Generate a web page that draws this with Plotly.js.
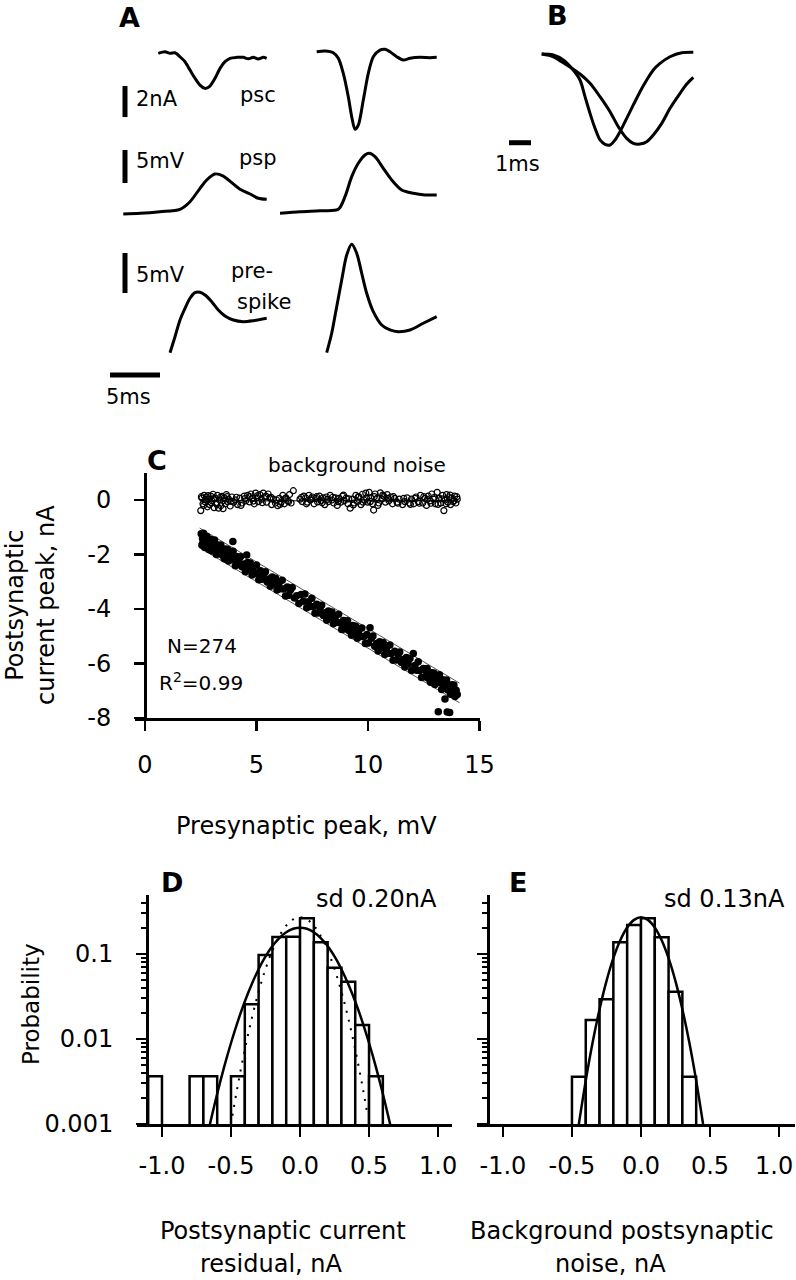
<!DOCTYPE html>
<html><head><meta charset="utf-8">
<script src="https://cdn.plot.ly/plotly-3.0.1.min.js"></script>
<style>html,body{margin:0;padding:0;background:#fff}#chart{width:796px;height:1280px}</style>
</head><body><div id="chart"></div>
<script>
// ---------------- Panel A: example traces (time in ms) ----------------
const psc_left_t  = [5.83,6.5,7.0,7.5,8.0,8.5,9.0,9.5,10.0,10.5,11.0,11.5,12.0,12.5,13.0,13.67,14.33,14.83,15.33,15.83,16.33,16.67];
const psc_left_nA = [0.11,0.21,0.11,0.15,-0.11,-0.43,-0.97,-1.5,-1.94,-2.15,-2.0,-1.5,-0.86,-0.43,-0.21,-0.15,-0.15,-0.24,-0.15,-0.26,-0.15,-0.21];
const psc_right_t  = [3.67,4.5,5.33,5.83,6.33,6.83,7.17,7.5,7.83,8.33,8.83,9.33,10.0,10.5,11.0,11.67,12.33,13.0,14.0,15.0,15.67];
const psc_right_nA = [0.21,0.26,0.15,-0.21,-1.18,-2.69,-3.98,-4.79,-4.52,-2.90,-1.18,-0.11,0.32,0.37,0.21,-0.11,-0.32,-0.21,-0.15,-0.17,-0.15];
const psp_left_t  = [2.33,4.0,6.0,8.0,9.0,10.0,10.67,11.5,12.33,13.17,14.0,15.0,15.83,16.67];
const psp_left_mV = [-0.30,-0.20,0.05,0.41,1.56,3.59,4.85,5.76,5.45,4.44,3.44,2.73,2.08,1.92];
const psp_right_t  = [0,2,4,5.83,6.5,7.17,7.83,8.5,8.93,9.5,10.33,11.17,12.17,13.33,14.5,15.67];
const psp_right_mV = [-0.2,0.05,0.2,0.41,2.32,5.35,7.38,8.64,8.89,8.38,6.62,4.85,3.33,2.83,2.58,2.58];
const pre_left_t  = [7,7.5,8,8.5,9,9.5,10,10.5,11.17,11.83,12.5,13.33,14.33,15.33,16.67];
const pre_left_mV = [0,2.0,4.09,5.55,6.8,7.5,7.55,7.21,6.38,5.34,4.59,4.09,3.88,4.0,4.3];
const pre_right_t  = [4.67,5.17,5.67,6.17,6.67,7.17,7.67,8.17,8.67,9.33,10.17,11.0,11.83,13.0,14.33,15.67];
const pre_right_mV = [0,2.43,5.75,9.09,12.21,13.55,12.43,9.93,7.43,5.13,3.46,2.84,2.63,2.84,3.68,4.5];

// ---------------- Panel B: normalised traces ----------------
const b_fast_t = [1.895,2.423,2.877,3.259,3.636,3.864,4.091,4.318,4.545,4.773,5.0,5.227,5.455,5.759,6.059,6.364,6.668,6.968,7.273,7.727,8.259,8.786];
const b_fast   = [0,-0.01,-0.066,-0.157,-0.286,-0.469,-0.652,-0.816,-0.945,-0.992,-1.0,-0.945,-0.854,-0.707,-0.56,-0.414,-0.286,-0.176,-0.103,-0.03,0.014,0.019];
const b_slow_t = [1.895,2.423,3.032,3.636,4.091,4.545,5.0,5.377,5.759,6.059,6.364,6.668,6.968,7.35,7.727,8.182,8.486,8.786];
const b_slow   = [0,-0.03,-0.121,-0.22,-0.322,-0.469,-0.634,-0.799,-0.927,-0.982,-0.989,-0.964,-0.89,-0.762,-0.597,-0.432,-0.33,-0.256];

// ---------------- Panel C: postsynaptic peak vs presynaptic peak ----------------
const c_evoked = [
[2.52,-1.24],[2.55,-1.65],[2.58,-1.40],[2.60,-1.55],[2.62,-1.22],[2.65,-1.52],[2.68,-1.74],[2.70,-1.38],[2.73,-1.68],[2.75,-1.45],
[2.78,-1.34],[2.80,-1.69],[2.83,-1.57],[2.86,-1.82],[2.90,-1.46],[2.93,-1.68],[2.96,-1.45],[3.00,-1.87],[3.04,-1.63],[3.08,-1.79],
[3.12,-1.47],[3.16,-1.77],[3.20,-2.00],[3.25,-1.65],[3.30,-1.96],[3.35,-1.74],[3.40,-1.65],[3.45,-2.01],[3.50,-1.90],[3.55,-2.16],
[3.60,-1.80],[3.65,-2.03],[3.70,-1.81],[3.75,-2.24],[3.80,-2.00],[3.85,-2.17],[3.94,-1.52],[3.95,-1.88],[4.00,-2.18],[4.05,-2.41],
[4.10,-2.07],[4.15,-2.37],[4.20,-2.16],[4.28,-2.08],[4.35,-2.45],[4.42,-2.35],[4.50,-2.63],[4.56,-2.02],[4.60,-2.29],[4.65,-2.52],
[4.72,-2.31],[4.80,-2.75],[4.85,-2.52],[4.92,-2.69],[5.00,-2.39],[5.05,-2.70],[5.10,-2.93],[5.18,-2.60],[5.25,-2.91],[5.32,-2.71],
[5.40,-2.63],[5.48,-3.01],[5.55,-2.90],[5.62,-3.17],[5.70,-2.83],[5.78,-3.07],[5.85,-2.87],[5.92,-3.30],[6.00,-3.08],[6.08,-3.26],
[6.15,-2.95],[6.22,-3.27],[6.30,-3.52],[6.38,-3.19],[6.45,-3.50],[6.52,-3.30],[6.60,-3.21],[6.70,-3.60],[6.80,-3.51],[6.90,-3.80],
[7.00,-3.47],[7.10,-3.72],[7.17,-3.45],[7.25,-3.95],[7.32,-3.73],[7.40,-3.91],[7.48,-3.61],[7.55,-3.92],[7.62,-4.16],[7.70,-3.83],
[7.78,-4.15],[7.85,-3.95],[7.92,-3.86],[8.00,-4.24],[8.08,-4.14],[8.15,-4.41],[8.22,-4.07],[8.30,-4.31],[8.38,-4.11],[8.45,-4.54],
[8.52,-4.32],[8.60,-4.49],[8.68,-4.19],[8.75,-4.51],[8.82,-4.75],[8.90,-4.42],[8.96,-4.73],[9.02,-4.52],[9.08,-4.43],[9.15,-4.80],
[9.20,-4.69],[9.26,-4.96],[9.32,-4.61],[9.38,-4.84],[9.45,-4.63],[9.52,-5.07],[9.58,-4.83],[9.65,-5.01],[9.72,-4.70],[9.80,-5.02],
[9.88,-5.27],[9.95,-4.94],[10.02,-5.25],[10.09,-4.69],[10.15,-5.07],[10.22,-4.99],[10.30,-5.37],[10.38,-5.27],[10.45,-5.54],[10.52,-5.20],
[10.60,-5.43],[10.68,-5.23],[10.75,-5.67],[10.82,-5.44],[10.90,-5.62],[10.98,-5.32],[11.05,-5.63],[11.12,-5.88],[11.20,-5.55],[11.28,-5.87],
[11.35,-5.66],[11.42,-5.58],[11.50,-5.96],[11.58,-5.85],[11.65,-6.13],[11.72,-5.78],[11.80,-6.02],[11.88,-5.82],[11.95,-6.26],[12.03,-5.63],
[12.10,-6.07],[12.18,-6.25],[12.25,-5.94],[12.32,-6.26],[12.40,-6.51],[12.48,-6.18],[12.55,-6.49],[12.60,-6.27],[12.65,-6.18],[12.70,-6.54],
[12.75,-6.43],[12.80,-6.69],[12.85,-6.34],[12.90,-6.56],[12.95,-6.35],[13.00,-6.77],[13.05,-6.53],[13.10,-6.70],[13.15,-7.77],[13.20,-6.41],
[13.25,-6.71],[13.30,-6.95],[13.35,-6.60],[13.40,-6.91],[13.45,-7.30],[13.48,-6.71],[13.52,-6.61],[13.55,-7.78],[13.58,-6.97],[13.62,-6.85],
[13.66,-7.80],[13.70,-7.13],[13.75,-6.78],[13.80,-7.00],[13.85,-6.79],[13.90,-7.21],[13.95,-6.98],[14.00,-7.14]
];
const c_noise = [
[2.50,-0.39],[2.55,0.07],[2.60,-0.14],[2.65,0.17],[2.70,-0.07],[2.75,0.11],[2.80,-0.25],[2.85,0.03],[2.90,-0.17],[2.95,0.14],
[3.00,-0.03],[3.05,0.21],[3.10,-0.28],[3.15,0.06],[3.20,-0.11],[3.25,0.17],[3.30,-0.30],[3.35,0.00],[3.40,-0.21],[3.45,0.13],
[3.50,-0.32],[3.55,0.08],[3.60,-0.14],[3.65,0.20],[3.70,-0.06],[3.75,0.03],[3.82,-0.22],[3.90,0.11],[3.98,-0.08],[4.05,0.00],
[4.15,-0.17],[4.25,0.07],[4.35,-0.11],[4.45,0.14],[4.52,-0.03],[4.60,0.17],[4.68,-0.07],[4.75,0.22],[4.82,0.06],[4.90,-0.14],
[4.96,0.25],[5.02,0.08],[5.08,-0.06],[5.15,0.20],[5.22,0.03],[5.30,0.25],[5.38,0.11],[5.45,-0.08],[5.52,0.22],[5.60,0.07],
[5.68,-0.17],[5.75,0.03],[5.85,-0.11],[5.95,-0.21],[6.02,0.06],[6.10,-0.08],[6.18,0.17],[6.25,-0.14],[6.32,0.08],[6.40,-0.03],
[6.48,0.20],[6.55,-0.11],[6.65,0.34],[6.95,0.03],[7.05,-0.06],[7.12,0.14],[7.20,0.08],[7.28,-0.08],[7.35,0.17],[7.42,0.00],
[7.50,0.11],[7.58,-0.14],[7.66,0.06],[7.74,-0.07],[7.82,0.14],[7.90,-0.03],[7.98,0.08],[8.06,-0.17],[8.14,0.11],[8.22,-0.06],
[8.30,0.17],[8.38,0.00],[8.46,-0.11],[8.54,0.08],[8.62,-0.20],[8.70,0.06],[8.78,-0.08],[8.86,0.14],[8.94,-0.03],[9.02,0.07],
[9.10,-0.14],[9.20,-0.30],[9.30,0.03],[9.38,-0.11],[9.45,0.17],[9.52,-0.06],[9.60,0.11],[9.68,-0.17],[9.75,0.21],[9.82,0.00],
[9.90,0.25],[9.98,-0.08],[10.05,0.28],[10.12,0.08],[10.20,-0.14],[10.25,-0.37],[10.32,0.22],[10.40,0.06],[10.48,-0.11],[10.55,0.26],
[10.62,0.03],[10.70,0.14],[10.78,-0.08],[10.86,0.20],[10.94,-0.03],[11.02,0.11],[11.10,-0.14],[11.20,0.06],[11.30,-0.08],[11.40,0.03],
[11.55,-0.17],[11.65,-0.06],[11.75,0.08],[11.85,-0.11],[11.95,0.03],[12.05,-0.14],[12.15,0.11],[12.25,-0.06],[12.35,0.17],[12.45,-0.11],
[12.55,0.06],[12.62,-0.20],[12.70,0.14],[12.78,-0.03],[12.86,0.22],[12.94,0.03],[13.02,-0.14],[13.10,0.28],[13.18,0.06],[13.26,-0.11],
[13.34,0.17],[13.40,-0.39],[13.46,0.00],[13.52,0.20],[13.58,-0.08],[13.64,0.11],[13.70,-0.17],[13.76,0.06],[13.82,-0.06],[13.88,0.14],
[13.94,-0.11],[14.00,0.03],
[2.53,0.12],[2.63,-0.20],[2.72,0.02],[2.83,0.16],[2.97,-0.10],[3.08,0.05],[3.22,-0.16],[3.38,0.10],[3.52,-0.02],[3.68,0.12],
[3.86,-0.05],[4.10,0.10],[4.30,-0.20],[4.48,0.05],[4.70,0.12],[4.86,-0.04],[5.05,0.16],[5.26,-0.10],[5.42,0.14],[5.65,0.10],
[5.90,0.00],[6.06,-0.16],[6.28,0.04],[6.44,-0.06],[7.02,0.10],[7.24,-0.14],[7.46,0.05],[7.70,0.12],[7.94,-0.10],[8.18,0.02],
[8.42,0.10],[8.66,-0.06],[8.90,0.18],[9.14,0.04],[9.34,-0.18],[9.56,0.12],[9.78,-0.08],[9.94,0.06],[10.10,-0.06],[10.28,0.12],
[10.44,-0.20],[10.66,0.18],[10.90,0.06],[11.14,0.12],[11.34,-0.12],[11.60,0.06],[11.90,-0.16],[12.10,0.06],[12.30,-0.12],[12.50,0.12],
[12.66,0.02],[12.82,-0.12],[12.98,0.10],[13.14,-0.16],[13.30,0.04],[13.50,-0.14],[13.68,0.18],[13.86,-0.02],[13.98,0.12]
];
const c_band_x     = [2.45, 14.1];
const c_band_upper = [-1.03, -6.72];
const c_band_lower = [-1.75, -7.44];
const c_noise_fit_x = [2.5, 14.0];
const c_noise_fit_y = [-0.03, -0.03];
const c_x_tickvals = [0, 5, 10, 15];
const c_x_ticktext = ['0', '5', '10', '15'];
const c_y_tickvals = [0, -2, -4, -6, -8];
const c_y_ticktext = ['0', '-2', '-4', '-6', '-8'];

// ---------------- Panels D & E: residual histograms (log probability) ----------------
const d_bin_centers = [-1.05,-0.75,-0.65,-0.45,-0.35,-0.25,-0.15,-0.05,0.05,0.15,0.25,0.35,0.45,0.55];
const d_prob        = [0.00365,0.00365,0.00365,0.00365,0.0256,0.0975,0.158,0.160,0.263,0.137,0.069,0.047,0.0146,0.00365];
const d_fit_x = [-0.655,-0.6,-0.55,-0.5,-0.45,-0.4,-0.35,-0.3,-0.25,-0.2,-0.15,-0.1,-0.05,0,0.05,0.1,0.15,0.2,0.25,0.3,0.35,0.4,0.45,0.5,0.55,0.6,0.655];
const d_fit_p = [0.00096,0.00227,0.00466,0.00897,0.01625,0.0276,0.0441,0.0662,0.0935,0.124,0.154,0.180,0.198,0.204,0.198,0.180,0.154,0.124,0.0935,0.0662,0.0441,0.0276,0.01625,0.00897,0.00466,0.00227,0.00096];
const d_noise_fit_x = [-0.49,-0.45,-0.4,-0.35,-0.3,-0.25,-0.2,-0.15,-0.1,-0.05,0,0.05,0.1,0.15,0.2,0.25,0.3,0.35,0.4,0.45,0.49];
const d_noise_fit_p = [0.00125,0.0029,0.00752,0.0174,0.036,0.0665,0.110,0.163,0.216,0.255,0.270,0.255,0.216,0.163,0.110,0.0665,0.036,0.0174,0.00752,0.0029,0.00125];
const e_bin_centers = [-0.45,-0.35,-0.25,-0.15,-0.05,0.05,0.15,0.25,0.35];
const e_prob        = [0.0036,0.0167,0.0293,0.137,0.219,0.263,0.157,0.036,0.0036];
const e_fit_x = [-0.45,-0.4,-0.35,-0.3,-0.25,-0.2,-0.15,-0.1,-0.05,0,0.05,0.1,0.15,0.2,0.25,0.3,0.35,0.4,0.45];
const e_fit_p = [0.001,0.00324,0.00914,0.0224,0.048,0.0893,0.145,0.205,0.252,0.270,0.252,0.205,0.145,0.0893,0.048,0.0224,0.00914,0.00324,0.001];
const h_x_tickvals = [-1, -0.5, 0, 0.5, 1];
const h_x_ticktext = ['-1.0', '-0.5', '0.0', '0.5', '1.0'];
const e_x_tickvals = [-1, -0.5, 0, 0.5];          // labelled by the axis
const e_x_ticktext = ['-1.0', '-0.5', '0.0', '0.5'];
const e_x_edge_tick = [1];                          // tick at the page edge, label drawn separately
const h_y_tickvals = [0.001, 0.01, 0.1];
const h_y_ticktext = ['0.001', '0.01', '0.1'];
const h_y_minor = [0.002,0.003,0.004,0.005,0.006,0.007,0.008,0.009,0.02,0.03,0.04,0.05,0.06,0.07,0.08,0.09,0.2,0.3,0.4,0.5];

// ---------------- Layout helpers ----------------
const W = 796, H = 1280;
const FONT = 'DejaVu Sans';
const X = p => p / W;
const Y = p => 1 - p / H;

const line = (x, y, xa, ya, extra = {}) => Object.assign({
  type: 'scatter', mode: 'lines', x, y, xaxis: xa, yaxis: ya,
  line: {color: '#000', width: 3, shape: 'spline', smoothing: 0.8}, hoverinfo: 'skip'
}, extra);

const traces = [
  line(psc_left_t, psc_left_nA, 'x', 'y'),
  line(psc_right_t, psc_right_nA, 'x2', 'y'),
  line(psp_left_t, psp_left_mV, 'x', 'y2'),
  line(psp_right_t, psp_right_mV, 'x2', 'y2'),
  line(pre_left_t, pre_left_mV, 'x', 'y3'),
  line(pre_right_t, pre_right_mV, 'x2', 'y3'),
  line(b_fast_t, b_fast, 'x3', 'y4'),
  line(b_slow_t, b_slow, 'x3', 'y4'),
  // Panel C
  {type: 'scatter', mode: 'lines', x: c_noise_fit_x, y: c_noise_fit_y, xaxis: 'x4', yaxis: 'y5',
   line: {color: '#000', width: 1}, hoverinfo: 'skip'},
  {type: 'scatter', mode: 'markers', x: c_noise.map(p => p[0]), y: c_noise.map(p => p[1]), xaxis: 'x4', yaxis: 'y5',
   marker: {symbol: 'circle-open', size: 6, color: '#000', line: {width: 1.2, color: '#000'}}, hoverinfo: 'skip'},
  {type: 'scatter', mode: 'lines', x: c_band_x, y: c_band_upper, xaxis: 'x4', yaxis: 'y5',
   line: {color: '#555', width: 1}, hoverinfo: 'skip'},
  {type: 'scatter', mode: 'lines', x: c_band_x, y: c_band_lower, xaxis: 'x4', yaxis: 'y5',
   line: {color: '#555', width: 1}, hoverinfo: 'skip'},
  {type: 'scatter', mode: 'markers', x: c_evoked.map(p => p[0]), y: c_evoked.map(p => p[1]), xaxis: 'x4', yaxis: 'y5',
   marker: {symbol: 'circle', size: 7.5, color: '#000'}, hoverinfo: 'skip'},
  // Panel D
  {type: 'bar', x: d_bin_centers, y: d_prob, width: 0.1, xaxis: 'x5', yaxis: 'y6',
   marker: {color: '#fff', line: {color: '#000', width: 2.5}}, hoverinfo: 'skip'},
  {type: 'scatter', mode: 'lines', x: d_noise_fit_x, y: d_noise_fit_p, xaxis: 'x5', yaxis: 'y6',
   line: {color: '#000', width: 2, dash: '2px,7px', shape: 'spline'}, hoverinfo: 'skip'},
  {type: 'scatter', mode: 'lines', x: d_fit_x, y: d_fit_p, xaxis: 'x5', yaxis: 'y6',
   line: {color: '#000', width: 2.5, shape: 'spline'}, hoverinfo: 'skip'},
  // Panel E
  {type: 'bar', x: e_bin_centers, y: e_prob, width: 0.1, xaxis: 'x6', yaxis: 'y7',
   marker: {color: '#fff', line: {color: '#000', width: 2.5}}, hoverinfo: 'skip'},
  {type: 'scatter', mode: 'lines', x: e_fit_x, y: e_fit_p, xaxis: 'x6', yaxis: 'y7',
   line: {color: '#000', width: 2.5, shape: 'spline'}, hoverinfo: 'skip'}
];

const hidden = {visible: false, fixedrange: true};
const axBase = {
  showline: true, linewidth: 3, linecolor: '#000', ticks: 'outside', ticklen: 10, tickwidth: 2.5,
  tickcolor: '#000', showgrid: false, zeroline: false, fixedrange: true, tickmode: 'array',
  tickfont: {family: FONT, size: 24, color: '#000'}
};
const minorLog = {tickmode: 'array', tickvals: h_y_minor, ticks: 'outside', ticklen: 5, tickwidth: 2, tickcolor: '#000', showgrid: false};

const ann = (text, x, y, size, o = {}) => ({
  text, x: X(x), y: Y(y), xref: 'paper', yref: 'paper', showarrow: false,
  xanchor: o.xa || 'center', yanchor: o.ya || 'middle', textangle: o.angle || 0,
  font: {family: FONT, size, color: '#000'}
});

const annotations = [
  ann('<b>A</b>', 129, 18, 27),
  ann('<b>B</b>', 557, 16, 27),
  ann('<b>C</b>', 157, 461, 27),
  ann('<b>D</b>', 172, 882, 27),
  ann('<b>E</b>', 518, 882, 27),
  ann('2nA', 134, 99, 21, {xa: 'left'}),
  ann('psc', 258, 95, 21),
  ann('5mV', 134, 161, 21, {xa: 'left'}),
  ann('psp', 258, 158, 21),
  ann('5mV', 134, 275, 21, {xa: 'left'}),
  ann('pre-', 229, 271, 21, {xa: 'left'}),
  ann('spike', 235, 302, 21, {xa: 'left'}),
  ann('5ms', 128, 397, 21),
  ann('1ms', 517, 164, 21),
  ann('background noise', 357, 465, 20),
  ann('N=274', 202, 646, 20),
  ann('R<sup>2</sup>=0.99', 201, 697, 20, {ya: 'bottom'}),
  ann('Presynaptic peak, mV', 306, 826, 24),
  ann('Postsynaptic<br>current peak, nA', 30, 605, 24, {angle: -90}),
  ann('sd 0.20nA', 376, 899, 24),
  ann('sd 0.13nA', 724, 899, 24),
  ann('Probability', 31, 1004, 23, {angle: -90}),
  ann('Postsynaptic current', 283, 1231, 24),
  ann('residual, nA', 271, 1264, 24),
  ann('Background postsynaptic', 622, 1231, 24),
  ann('noise, nA', 610, 1264, 24),
  // last tick label of panel E sits at the page edge
  ann('1.0', 795, 1166, 24, {xa: 'right'})
];

const bar = (xref, yref, x0, y0, x1, y1, w) => ({
  type: 'line', xref, yref, x0, y0, x1, y1, line: {color: '#000', width: w}
});
const shapes = [
  bar('x', 'y', 2.5, -4.0, 2.5, -2.0, 5),      // 2 nA
  bar('x', 'y2', 2.5, 4.39, 2.5, 9.39, 5),     // 5 mV
  bar('x', 'y3', 2.5, 7.46, 2.5, 12.46, 5),    // 5 mV
  bar('x', 'y3', 1, -2.79, 6, -2.79, 5),       // 5 ms
  bar('x3', 'y4', 0.409, -0.975, 1.409, -0.975, 5) // 1 ms
];

const layout = {
  width: W, height: H, margin: {l: 0, r: 0, t: 0, b: 0},
  paper_bgcolor: '#fff', plot_bgcolor: 'rgba(0,0,0,0)', showlegend: false,
  font: {family: FONT, color: '#000', size: 22}, bargap: 0, hovermode: false,
  xaxis:  Object.assign({domain: [X(100), X(280)], range: [0, 18], anchor: 'y'}, hidden),
  xaxis2: Object.assign({domain: [X(280), X(450)], range: [0, 17], anchor: 'y'}, hidden),
  yaxis:  Object.assign({domain: [Y(140), Y(40)], range: [-5.48, 0.97], anchor: 'x'}, hidden),
  yaxis2: Object.assign({domain: [Y(220), Y(145)], range: [-1.21, 10.15], anchor: 'x'}, hidden),
  yaxis3: Object.assign({domain: [Y(385), Y(235)], range: [-4.04, 14.71], anchor: 'x'}, hidden),
  xaxis3: Object.assign({domain: [X(500), X(700)], range: [0, 9.09], anchor: 'y4'}, hidden),
  yaxis4: Object.assign({domain: [Y(160), Y(40)], range: [-1.165, 0.154], anchor: 'x3'}, hidden),
  xaxis4: Object.assign({}, axBase, {domain: [X(135), X(480)], range: [-0.448, 15.02], anchor: 'y5',
    tickvals: c_x_tickvals, ticktext: c_x_ticktext, ticklabelstandoff: 13}),
  yaxis5: Object.assign({}, axBase, {domain: [Y(718), Y(473)], range: [-8, 0.99], anchor: 'free', position: X(145),
    tickvals: c_y_tickvals, ticktext: c_y_ticktext, ticklabelstandoff: 18}),
  xaxis5: Object.assign({}, axBase, {domain: [X(137), X(452)], range: [-1.181, 1.101], anchor: 'y6',
    tickvals: h_x_tickvals, ticktext: h_x_ticktext, ticklabelstandoff: 8}),
  yaxis6: Object.assign({}, axBase, {type: 'log', domain: [Y(1124), Y(895)], range: [-3, -0.306], anchor: 'free', position: X(147),
    tickvals: h_y_tickvals, ticktext: h_y_ticktext, ticklabelstandoff: 18, minor: minorLog}),
  xaxis6: Object.assign({}, axBase, {domain: [X(477), X(795)], range: [-1.188, 1.116], anchor: 'y7',
    tickvals: e_x_tickvals, ticktext: e_x_ticktext, ticklabelstandoff: 8,
    minor: {tickmode: 'array', tickvals: e_x_edge_tick, ticks: 'outside', ticklen: 10, tickwidth: 2.5, tickcolor: '#000', showgrid: false}}),
  yaxis7: Object.assign({}, axBase, {type: 'log', domain: [Y(1124), Y(895)], range: [-3, -0.306], anchor: 'free', position: X(488),
    tickvals: h_y_tickvals, showticklabels: false, minor: minorLog}),
  annotations, shapes
};

Plotly.newPlot('chart', traces, layout, {staticPlot: true, displayModeBar: false});
</script></body></html>
